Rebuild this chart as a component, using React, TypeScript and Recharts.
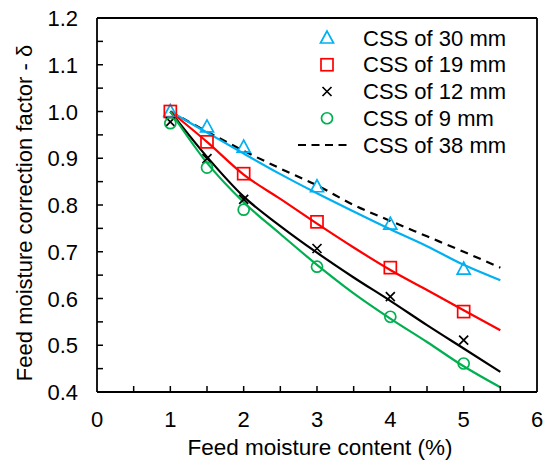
import React from 'react';
import {
  ComposedChart,
  Line,
  Scatter,
  XAxis,
  YAxis,
  ReferenceLine,
  Legend,
} from 'recharts';

// measured points (feed moisture %, correction factor)
const moisture = [1, 1.5, 2, 3, 4, 5];
const css30 = [1.0, 0.967, 0.924, 0.839, 0.759, 0.663];
const css19 = [1.0, 0.935, 0.867, 0.764, 0.666, 0.572];
const css12 = [0.978, 0.899, 0.812, 0.707, 0.604, 0.511];
const css9 = [0.975, 0.88, 0.79, 0.668, 0.561, 0.461];

// model curves
const fitMoisture = [1, 1.5, 2, 2.5, 3, 3.5, 4, 4.5, 5, 5.5];
const fit38 = [1.0, 0.957, 0.916, 0.878, 0.842, 0.8, 0.766, 0.733, 0.7, 0.666];
const fit30 = [1.0, 0.955, 0.91, 0.866, 0.825, 0.786, 0.748, 0.712, 0.672, 0.639];
const fit19 = [1.0, 0.935, 0.865, 0.813, 0.76, 0.709, 0.661, 0.618, 0.575, 0.532];
const fit12 = [1.0, 0.903, 0.818, 0.755, 0.698, 0.645, 0.595, 0.543, 0.493, 0.443];
const fit9 = [1.0, 0.89, 0.806, 0.738, 0.672, 0.611, 0.557, 0.507, 0.455, 0.41];

const xTicks = [0, 0.5, 1, 1.5, 2, 2.5, 3, 3.5, 4, 4.5, 5, 5.5, 6];
const yTicks = [0.4, 0.45, 0.5, 0.55, 0.6, 0.65, 0.7, 0.75, 0.8, 0.85, 0.9, 0.95, 1.0, 1.05, 1.1, 1.15, 1.2];

const legendNames = ['CSS of 30 mm', 'CSS of 19 mm', 'CSS of 12 mm', 'CSS of 9 mm', 'CSS of 38 mm'];

const BLUE = '#00B0F0';
const RED = '#FF0000';
const GREEN = '#00B050';
const FONT = '"Liberation Sans", Arial, sans-serif';

const pts = (xs: number[], ys: number[]) => xs.map((x, i) => ({ x, y: ys[i] }));

type Kind = 'triangle' | 'square' | 'cross' | 'circle';

function Marker({ cx, cy, kind }: { cx: number; cy: number; kind: Kind }) {
  if (cx == null || cy == null) return null;
  if (kind === 'triangle') {
    return (
      <polygon
        points={`${cx},${cy - 7} ${cx - 6.5},${cy + 5} ${cx + 6.5},${cy + 5}`}
        fill="none"
        stroke={BLUE}
        strokeWidth={1.7}
      />
    );
  }
  if (kind === 'square') {
    return <rect x={cx - 6} y={cy - 6} width={12} height={12} fill="none" stroke={RED} strokeWidth={1.7} />;
  }
  if (kind === 'cross') {
    return (
      <path
        d={`M${cx - 4.5},${cy - 4.5}L${cx + 4.5},${cy + 4.5}M${cx + 4.5},${cy - 4.5}L${cx - 4.5},${cy + 4.5}`}
        stroke="#000"
        strokeWidth={1.7}
      />
    );
  }
  return <circle cx={cx} cy={cy} r={5.5} fill="none" stroke={GREEN} strokeWidth={1.7} />;
}

const XTick = (props: any) => {
  const { x, y, payload } = props;
  const v = payload.value;
  const major = Math.abs(v - Math.round(v)) < 1e-6;
  return (
    <g>
      {v > 0 && v < 6 && <line x1={x} x2={x} y1={y} y2={y - 6} stroke="#000" strokeWidth={1.5} />}
      {major && (
        <text x={x} y={y + 35} textAnchor="middle" fontSize={22} fontFamily={FONT} fill="#000">
          {v}
        </text>
      )}
    </g>
  );
};

const YTick = (props: any) => {
  const { x, y, payload } = props;
  const v = payload.value;
  const major = Math.round(v * 100) % 10 === 0;
  return (
    <g>
      {v > 0.41 && v < 1.19 && <line x1={x} x2={x + 6} y1={y} y2={y} stroke="#000" strokeWidth={1.5} />}
      {major && (
        <text x={x - 19} y={y + 8} textAnchor="end" fontSize={22} fontFamily={FONT} fill="#000">
          {v.toFixed(1)}
        </text>
      )}
    </g>
  );
};

const LegendBox = () => {
  const kinds: Kind[] = ['triangle', 'square', 'cross', 'circle'];
  return (
    <svg width={240} height={140} style={{ overflow: 'visible' }}>
      {legendNames.map((name, i) => {
        const cy = 18 + i * 26.75;
        return (
          <g key={name}>
            {i < 4 ? (
              <Marker cx={37} cy={cy} kind={kinds[i]} />
            ) : (
              <line x1={8} x2={62} y1={cy} y2={cy} stroke="#000" strokeWidth={2} strokeDasharray="8 5.5" />
            )}
            <text x={73} y={cy + 7.5} fontSize={22} fontFamily={FONT} fill="#000">
              {name}
            </text>
          </g>
        );
      })}
    </svg>
  );
};

export default function App() {
  return (
    <div style={{ position: 'absolute', left: 0, top: 0, background: '#fff' }}>
      <ComposedChart width={550} height={471} margin={{ top: 18, right: 13, bottom: 0, left: 0 }}>
        <XAxis
          type="number"
          dataKey="x"
          domain={[0, 6]}
          ticks={xTicks}
          interval={0}
          allowDataOverflow
          height={79}
          tickSize={0}
          tickMargin={0}
          tick={<XTick />}
          axisLine={{ stroke: '#000', strokeWidth: 1.8 }}
          label={{
            content: ({ viewBox }: any) => (
              <text
                x={viewBox.x + viewBox.width / 2 + 3}
                y={viewBox.y + 63}
                textAnchor="middle"
                fontSize={22.5}
                fontFamily={FONT}
                fill="#000"
              >
                Feed moisture content (%)
              </text>
            ),
          }}
        />
        <YAxis
          type="number"
          domain={[0.4, 1.2]}
          ticks={yTicks}
          interval={0}
          allowDataOverflow
          width={97}
          tickSize={0}
          tickMargin={0}
          tick={<YTick />}
          axisLine={{ stroke: '#000', strokeWidth: 1.8 }}
          label={{
            content: ({ viewBox }: any) => {
              const cx = viewBox.x + 24;
              const cy = viewBox.y + viewBox.height / 2 + 8;
              return (
                <text
                  x={cx}
                  y={cy}
                  transform={`rotate(-90 ${cx} ${cy})`}
                  textAnchor="middle"
                  dominantBaseline="central"
                  fontSize={22}
                  fontFamily={FONT}
                  fill="#000"
                >
                  Feed moisture correction factor - δ
                </text>
              );
            },
          }}
        />
        <ReferenceLine y={1.2} stroke="#000" strokeWidth={1.8} />
        <ReferenceLine x={6} stroke="#000" strokeWidth={1.8} />

        <Line data={pts(fitMoisture, fit38)} dataKey="y" type="monotone" stroke="#000" strokeWidth={2.2} strokeDasharray="8 6" dot={false} isAnimationActive={false} />
        <Line data={pts(fitMoisture, fit30)} dataKey="y" type="monotone" stroke={BLUE} strokeWidth={2.2} dot={false} isAnimationActive={false} />
        <Line data={pts(fitMoisture, fit19)} dataKey="y" type="monotone" stroke={RED} strokeWidth={2.2} dot={false} isAnimationActive={false} />
        <Line data={pts(fitMoisture, fit12)} dataKey="y" type="monotone" stroke="#000" strokeWidth={2.2} dot={false} isAnimationActive={false} />
        <Line data={pts(fitMoisture, fit9)} dataKey="y" type="monotone" stroke={GREEN} strokeWidth={2.2} dot={false} isAnimationActive={false} />

        <Scatter data={pts(moisture, css30)} dataKey="y" isAnimationActive={false} shape={(p: any) => <Marker cx={p.cx} cy={p.cy} kind="triangle" />} />
        <Scatter data={pts(moisture, css19)} dataKey="y" isAnimationActive={false} shape={(p: any) => <Marker cx={p.cx} cy={p.cy} kind="square" />} />
        <Scatter data={pts(moisture, css12)} dataKey="y" isAnimationActive={false} shape={(p: any) => <Marker cx={p.cx} cy={p.cy} kind="cross" />} />
        <Scatter data={pts(moisture, css9)} dataKey="y" isAnimationActive={false} shape={(p: any) => <Marker cx={p.cx} cy={p.cy} kind="circle" />} />

        <Legend
          layout="vertical"
          align="center"
          verticalAlign="middle"
          content={<LegendBox />}
          wrapperStyle={{ position: 'absolute', left: 290, top: 20, width: 240, height: 140 }}
        />
      </ComposedChart>
    </div>
  );
}
